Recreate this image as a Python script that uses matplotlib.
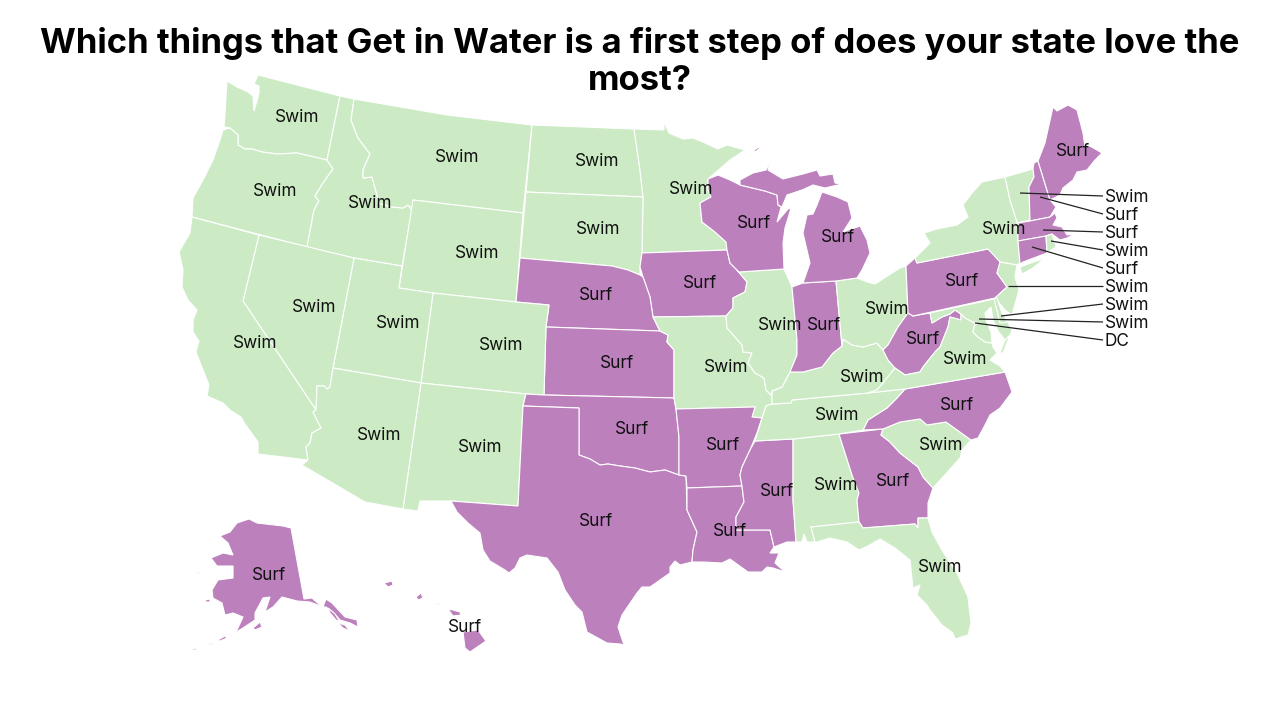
import matplotlib
matplotlib.use("Agg")
import matplotlib.pyplot as plt
from matplotlib.patches import Polygon

TITLE = "Which things that Get in Water is a first step of does your state love the\nmost?"
COLORS = {"Swim": "#ccebc5", "Surf": "#bc80bd"}

# favourite per state / label centre
SWIM_STATES = ["WA","MT","ND","MN","OR","ID","SD","WY","NV","UT","CO","CA","AZ","NM","IL","OH","MO","KY","TN","AL","SC","VA","FL","NY"]
SWIM_X = [297,457,597,691,275,370,598,477,314,398,501,255,379,480,780,887,726,862,837,836,941,965,940,1004]
SWIM_Y = [118,158,162,190,192,204,230,253,308,324,345,343,436,447,326,309,367,377,416,485,446,360,567,229]
SURF_STATES = ["NE","KS","OK","TX","AR","LA","MS","IA","WI","MI","IN","WV","PA","ME","NC","GA","AK","HI"]
SURF_X = [596,617,632,596,723,730,777,700,754,838,824,923,962,1073,957,893,269,465]
SURF_Y = [295,364,430,522,445,531,491,284,224,238,325,340,282,152,405,481,575,627]

# small states labelled through leader lines
CALLOUT_STATES = ["VT","NH","MA","RI","CT","NJ","DE","MD","DC"]
CALLOUT_TEXT = ["Swim","Surf","Surf","Swim","Surf","Swim","Swim","Swim","DC"]
CALLOUT_FAV = ["Swim","Surf","Surf","Swim","Surf","Swim","Swim","Swim","Swim"]
CALLOUT_FROM_X = [1020,1040,1043,1051,1032,1008,1001,979,975]
CALLOUT_FROM_Y = [193,197,230,241,247,286,316,319,323]
CALLOUT_Y = [196,214,232,250,268,286,304,322,340]
CALLOUT_X = 1105

OUTLINES = {
"WA":[[(258,75),(340,96),(327,160),(297,153),(277,154),(262,152),(252,149),(245,149),(238,145),(238,135),(230,128),(224,127),(225,113),(227,81),(237,87),(248,92),(253,96),(254,111),(257,101),(259,93),(259,86),(254,84)]],
"OR":[[(223,130),(230,128),(238,135),(238,145),(245,149),(252,149),(262,152),(277,154),(297,153),(327,160),(333,169),(323,183),(315,196),(319,201),(314,210),(307,247),(192,217),(193,198),(203,180),(213,160),(220,140)]],
"ID":[[(340,96),(354,99),(351,120),(358,138),(370,154),(363,170),(363,178),(372,177),(377,195),(378,203),(392,207),(403,208),(408,205),(412,210),(402,266),(354,258),(307,247),(314,210),(319,201),(315,196),(323,183),(333,169),(327,160)]],
"MT":[[(354,99),(447,115),(532,125),(523,213),(413,200),(412,210),(408,205),(403,208),(392,207),(378,203),(377,195),(372,177),(363,178),(363,170),(370,154),(358,138),(351,120)]],
"WY":[[(413,200),(523,213),(516,302),(433,293),(399,288)]],
"ND":[[(532,125),(634,129),(640,170),(643,197),(526,192)]],
"MN":[[(634,129),(664,130),(664,122),(669,133),(683,139),(693,138),(705,143),(718,149),(727,145),(745,150),(730,160),(708,179),(708,190),(711,197),(700,203),(702,222),(715,232),(726,242),(727,250),(642,253),(643,197),(640,170)]],
"SD":[[(526,192),(643,197),(642,253),(640,267),(640,275),(628,270),(612,266),(520,258)]],
"IA":[[(642,253),(727,250),(730,263),(737,270),(747,282),(745,292),(733,298),(733,308),(726,316),(653,317),(650,297),(643,277),(640,267)]],
"NE":[[(520,258),(612,266),(628,270),(640,275),(643,277),(650,297),(653,317),(660,331),(546,327),(549,305),(516,302)]],
"KS":[[(546,327),(660,331),(668,335),(667,342),(674,350),(674,398),(544,395)]],
"CO":[[(433,293),(516,302),(549,305),(546,327),(544,395),(526,394),(421,383)]],
"NM":[[(421,383),(526,394),(523,406),(518,506),(451,501),(420,501),(418,511),(403,509)]],
"UT":[[(354,258),(402,266),(399,288),(433,293),(421,383),(333,368)]],
"NV":[[(259,235),(354,258),(333,368),(330,387),(327,389),(324,386),(317,386),(316,410),(243,301)]],
"CA":[[(192,217),(259,235),(243,301),(316,410),(313,412),(321,428),(312,433),(310,443),(306,447),(308,460),(258,454),(258,442),(245,424),(241,417),(230,410),(223,403),(207,396),(209,385),(205,375),(196,352),(199,341),(193,332),(193,320),(197,310),(188,300),(182,287),(183,270),(179,252),(190,233)]],
"AZ":[[(333,368),(421,383),(403,509),(365,502),(302,465),(308,460),(306,447),(310,443),(312,433),(321,428),(313,412),(316,410),(317,386),(324,386),(327,389),(330,387)]],
"OK":[[(526,394),(544,395),(674,398),(676,409),(679,437),(679,475),(665,470),(650,472),(635,468),(620,466),(608,464),(600,465),(590,459),(579,455),(579,408),(523,406)]],
"TX":[[(523,406),(579,408),(579,455),(590,459),(600,465),(608,464),(620,466),(635,468),(650,472),(665,470),(679,475),(686,476),(687,510),(697,532),(693,550),(692,562),(680,565),(675,561),(670,567),(670,573),(650,587),(642,587),(637,593),(622,615),(618,627),(624,645),(620,644),(607,643),(587,632),(582,612),(575,605),(565,590),(558,572),(547,558),(527,555),(520,558),(515,568),(509,573),(505,570),(490,561),(483,550),(480,533),(468,523),(457,512),(451,501),(518,506)]],
"MO":[[(653,317),(726,316),(727,328),(742,345),(743,352),(752,353),(748,363),(755,373),(764,378),(766,390),(771,395),(772,391),(772,404),(766,406),(762,418),(752,417),(755,407),(676,409),(674,398),(674,350),(667,342),(668,335),(660,331)]],
"AR":[[(676,409),(755,407),(752,417),(762,418),(757,433),(750,450),(742,467),(740,475),(742,486),(687,488),(686,476),(679,475),(679,437)]],
"LA":[[(687,488),(742,486),(744,502),(736,517),(736,530),(770,530),(774,547),(770,553),(779,553),(775,563),(785,572),(773,568),(767,567),(762,572),(748,572),(730,559),(722,563),(703,562),(692,562),(693,550),(697,532),(687,510)]],
"MS":[[(755,441),(793,439),(793,500),(796,542),(787,542),(774,547),(770,530),(736,530),(736,517),(744,502),(742,486),(740,475),(742,467),(750,450)]],
"AL":[[(793,439),(839,434),(852,475),(859,493),(857,500),(859,522),(811,527),(815,542),(807,542),(804,534),(802,542),(796,542),(793,500)]],
"GA":[[(839,434),(883,429),(881,435),(890,442),(900,453),(918,467),(923,477),(933,488),(928,503),(928,518),(918,518),(918,528),(915,524),(863,528),(859,522),(857,500),(859,493),(852,475)]],
"FL":[[(811,527),(859,522),(863,528),(915,524),(918,528),(918,518),(928,518),(932,532),(943,552),(957,573),(968,597),(971,623),(968,635),(955,639),(953,633),(942,625),(930,610),(927,605),(917,595),(920,585),(913,588),(910,560),(895,548),(880,539),(868,546),(859,550),(847,542),(830,538),(817,542),(815,542)]],
"SC":[[(883,429),(900,422),(920,419),(927,425),(946,422),(971,440),(962,450),(960,458),(943,477),(933,488),(923,477),(918,467),(900,453),(890,442),(881,435)]],
"NC":[[(863,430),(868,420),(887,408),(897,398),(905,389),(1005,372),(1012,392),(1000,408),(990,415),(985,425),(978,438),(971,440),(946,422),(927,425),(920,419),(900,422),(883,429)]],
"TN":[[(772,404),(791,403),(792,400),(868,393),(905,389),(897,398),(887,408),(868,420),(863,430),(839,434),(793,439),(755,441),(762,418),(766,406)]],
"KY":[[(790,372),(803,372),(822,367),(833,353),(842,346),(843,339),(852,345),(863,347),(877,343),(883,350),(888,360),(895,368),(883,383),(877,390),(868,393),(792,400),(791,403),(772,404),(772,391),(782,387)]],
"IL":[[(739,272),(784,269),(792,287),(797,340),(797,355),(790,372),(782,387),(772,391),(771,395),(766,390),(764,378),(755,373),(748,363),(752,353),(743,352),(742,345),(727,328),(726,316),(733,308),(733,298),(745,292),(747,282),(737,270)]],
"IN":[[(792,287),(803,283),(836,281),(842,346),(833,353),(822,367),(803,372),(790,372),(797,355),(797,340)]],
"OH":[[(836,281),(857,278),(867,282),(875,284),(900,268),(906,266),(908,313),(898,327),(888,345),(883,350),(877,343),(863,347),(852,345),(843,339),(842,346)]],
"WV":[[(908,313),(913,316),(930,313),(932,323),(942,317),(950,314),(955,310),(961,314),(961,320),(950,317),(948,327),(940,347),(935,352),(923,367),(920,372),(905,375),(895,368),(888,360),(883,350),(888,345),(898,327)]],
"VA":[[(895,368),(905,375),(920,372),(923,367),(935,352),(940,347),(948,327),(950,317),(961,320),(961,314),(965,318),(975,323),(973,332),(978,337),(985,342),(992,343),(993,347),(997,353),(990,360),(1000,366),(1005,372),(905,389),(868,393),(877,390),(883,383)],[(1005,340),(1010,335),(1003,353),(1000,353)]],
"PA":[[(906,266),(915,258),(917,263),(988,249),(1001,260),(997,273),(1007,287),(995,298),(913,316),(908,313)]],
"NY":[[(1005,177),(1010,200),(1017,222),(1018,240),(1020,263),(1017,265),(1000,262),(988,249),(917,263),(915,258),(930,243),(924,233),(937,229),(957,225),(968,217),(963,205),(972,193),(982,182)],[(1020,267),(1045,258),(1033,268),(1022,274)]],
"NJ":[[(1000,262),(1017,265),(1015,277),(1019,290),(1012,315),(1005,310),(995,298),(1007,287),(997,273)]],
"VT":[[(1005,177),(1033,169),(1034,177),(1029,187),(1030,220),(1018,223),(1017,222),(1010,200)]],
"NH":[[(1034,163),(1038,161),(1050,200),(1056,207),(1050,217),(1030,221),(1029,187),(1034,177),(1033,169)]],
"ME":[[(1038,161),(1045,143),(1053,107),(1057,111),(1068,105),(1077,110),(1083,133),(1085,147),(1090,146),(1102,153),(1095,160),(1087,170),(1077,172),(1073,180),(1063,188),(1060,195),(1050,200)]],
"MA":[[(1018,223),(1030,221),(1050,217),(1055,213),(1057,218),(1053,225),(1062,227),(1067,235),(1075,234),(1067,238),(1060,240),(1052,234),(1046,236),(1018,241)]],
"CT":[[(1018,241),(1046,236),(1047,253),(1023,262),(1020,264)]],
"RI":[[(1046,236),(1052,234),(1056,247),(1048,252),(1047,253)]],
"DE":[[(994,299),(997,298),(1002,313),(1008,322),(1000,323)]],
"MD":[[(930,313),(994,299),(1000,323),(1008,322),(1012,331),(1010,335),(1005,340),(998,331),(993,320),(991,307),(985,313),(986,320),(991,332),(992,343),(985,342),(978,337),(973,332),(975,323),(965,318),(961,314),(955,310),(950,314),(942,317),(932,323)]],
"WI":[[(708,179),(718,175),(730,180),(740,185),(765,191),(777,195),(778,205),(781,207),(780,211),(777,222),(788,209),(791,208),(789,215),(785,228),(783,243),(784,269),(739,272),(730,263),(727,250),(726,242),(715,232),(702,222),(700,203),(711,197),(708,190)]],
"MI":[[(740,180),(753,173),(766,170),(771,160),(768,170),(783,179),(803,174),(817,170),(820,176),(833,174),(835,183),(842,184),(825,188),(813,185),(802,190),(787,195),(782,207),(778,205),(777,195),(765,191),(740,185)],
      [(803,283),(810,263),(803,233),(807,215),(813,214),(817,205),(822,192),(837,197),(848,202),(852,218),(843,232),(860,226),(867,240),(870,253),(862,270),(857,278),(836,281)],
      [(754,150),(761,146),(759,149),(755,152)]],
"AK":[[(249,519),(257,523),(283,526),(291,528),(304,599),(312,598),(320,605),(323,607),(310,602),(297,601),(282,597),(273,607),(265,612),(270,597),(263,598),(255,613),(255,620),(243,628),(228,637),(237,630),(243,617),(233,613),(225,615),(222,603),(213,598),(212,590),(218,580),(233,578),(233,566),(217,566),(211,558),(223,553),(233,555),(228,543),(220,536),(230,532),(237,523)],
      [(323,607),(326,599),(332,603),(345,617),(357,620),(358,627),(350,623),(340,620),(333,612),(326,607)],
      [(328,608),(335,614),(340,622),(336,620),(330,613)],[(338,623),(345,625),(350,631),(343,628)],
      [(253,628),(260,622),(262,627),(255,630)],[(207,644),(213,643),(212,645)],[(218,640),(225,636),(227,638),(220,641)],
      [(194,570),(200,573),(202,575),(197,573)],[(205,600),(210,599),(210,602),(206,602)],[(187,650),(197,648),(196,650)]],
"HI":[[(384,583),(392,581),(393,585),(388,587)],[(416,597),(421,593),(423,598),(418,600)],[(435,604),(440,603),(439,605)],[(448,609),(453,610),(460,612),(461,615),(453,616)],[(463,632),(478,630),(486,641),(470,652),(465,648)]],
"DC":[[(974,323),(976,322),(977,324),(975,325)]],
}

fig = plt.figure(figsize=(12.8, 7.2), dpi=100)
ax = fig.add_axes([0, 0, 1, 1])
ax.set_xlim(0, 1280)
ax.set_ylim(720, 0)
ax.axis("off")

FONT = "Inter"
LABEL_SIZE = 12.4
fav = dict(zip(SWIM_STATES, ["Swim"] * len(SWIM_STATES)))
fav.update(zip(SURF_STATES, ["Surf"] * len(SURF_STATES)))
fav.update(zip(CALLOUT_STATES, CALLOUT_FAV))
for st, parts in OUTLINES.items():
    for part in parts:
        ax.add_patch(Polygon(part, closed=True, facecolor=COLORS[fav[st]], edgecolor="white", linewidth=0.8, zorder=2))

for x, y, t in zip(SWIM_X, SWIM_Y, ["Swim"] * len(SWIM_X)):
    ax.text(x, y, t, ha="center", va="center", fontsize=LABEL_SIZE, family=FONT, color="#111111", zorder=5)
for x, y, t in zip(SURF_X, SURF_Y, ["Surf"] * len(SURF_X)):
    ax.text(x, y, t, ha="center", va="center", fontsize=LABEL_SIZE, family=FONT, color="#111111", zorder=5)

for x0, y0, y1, t in zip(CALLOUT_FROM_X, CALLOUT_FROM_Y, CALLOUT_Y, CALLOUT_TEXT):
    ax.plot([x0, CALLOUT_X - 2], [y0, y1], color="#222222", lw=0.9, zorder=4, solid_capstyle="butt")
    ax.text(CALLOUT_X, y1 + 1, t, ha="left", va="center", fontsize=LABEL_SIZE, family=FONT, color="#111111", zorder=5)

ax.text(640, 62, TITLE, ha="center", va="center", fontsize=24.9, fontweight="bold", family=FONT, color="black", linespacing=1.23, zorder=6)

fig.savefig("out.png", dpi=100)
